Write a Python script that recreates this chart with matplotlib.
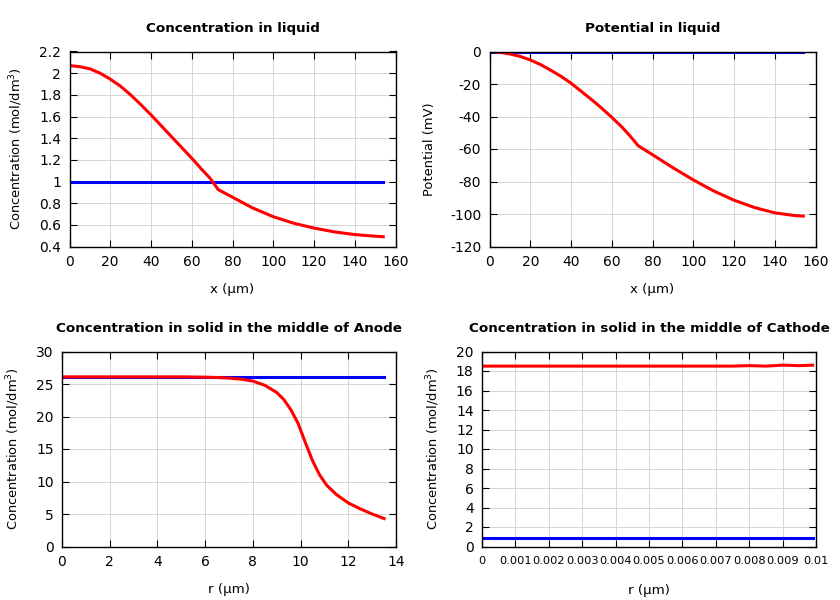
import numpy as np
import matplotlib.pyplot as plt
plt.switch_backend('agg')

# concentration in liquid (x in um)
x_liq = [0, 5, 10, 15, 20, 25, 30, 35, 40, 45, 50, 55, 60, 65, 69, 73,
         80, 90, 100, 110, 120, 130, 140, 150, 154]
c_liq_red = [2.07, 2.06, 2.04, 2.0, 1.945, 1.88, 1.8, 1.71, 1.615, 1.515, 1.415,
             1.315, 1.215, 1.11, 1.03, 0.925, 0.855, 0.755, 0.675, 0.615, 0.57,
             0.535, 0.51, 0.495, 0.49]
c_liq_blue = [1.0] * len(x_liq)

# potential in liquid (mV)
p_liq_red = [0, -0.5, -1.5, -3.0, -5.2, -8.0, -11.5, -15.2, -19.5, -24.5, -29.5,
             -34.8, -40.5, -46.5, -52.0, -58.0, -63.5, -71.5, -79.0, -85.8, -91.5,
             -96.0, -99.3, -101.0, -101.3]
p_liq_blue = [0.0] * len(x_liq)

# anode solid (r in um)
r_an = [0.05, 1, 2, 3, 4, 5, 6, 6.5, 7, 7.5, 8, 8.5, 9, 9.3, 9.6, 9.9, 10.2,
        10.5, 10.8, 11.1, 11.5, 12, 12.5, 13, 13.5]
c_an_red = [26.1, 26.1, 26.1, 26.1, 26.1, 26.1, 26.05, 26.0, 25.9, 25.75, 25.45,
            24.8, 23.7, 22.6, 21.0, 18.9, 16.0, 13.2, 11.0, 9.4, 8.0, 6.7, 5.8,
            5.0, 4.3]
c_an_blue = [26.1] * len(r_an)

# cathode solid
r_ca = [0.00005, 0.001, 0.002, 0.003, 0.004, 0.005, 0.006, 0.007, 0.0075,
        0.008, 0.0085, 0.009, 0.0095, 0.0099]
c_ca_red = [18.5, 18.5, 18.5, 18.5, 18.5, 18.5, 18.5, 18.5, 18.5, 18.55, 18.5,
            18.6, 18.55, 18.6]
c_ca_blue = [0.9] * len(r_ca)

plt.rcParams['axes.unicode_minus'] = False
fig = plt.figure(figsize=(8.4, 6), dpi=100)

W = 326 / 840
H = 195 / 600
axes = [
    fig.add_axes([69.5 / 840, 1 - 246.5 / 600, W, H]),
    fig.add_axes([489.5 / 840, 1 - 246.5 / 600, W, H]),
    fig.add_axes([62 / 840, 1 - 546.5 / 600, 334 / 840, H]),
    fig.add_axes([482 / 840, 1 - 546.5 / 600, 334 / 840, H]),
]


def style(ax, title, xlabel, ylabel):
    ax.set_title(title, fontweight='bold', fontsize=9.7, pad=14)
    ax.set_xlabel(xlabel, labelpad=10, fontsize=9.6)
    ax.set_ylabel(ylabel, labelpad=10, fontsize=9.4)
    ax.grid(True, color='#d5d5d5', lw=0.7)
    ax.set_axisbelow(True)
    ax.tick_params(direction='in', top=True, right=True, length=5, labelsize=10,
                   pad=6)
    for s in ax.spines.values():
        s.set_linewidth(1.0)


lw = 2.2
ax = axes[0]
ax.plot(x_liq, c_liq_blue, c='blue', lw=lw)
ax.plot(x_liq, c_liq_red, c='red', lw=lw)
ax.set_xlim(0, 160)
ax.set_xticks(np.arange(0, 161, 20))
ax.set_ylim(0.4, 2.2)
ax.set_yticks(np.arange(0.4, 2.21, 0.2))
ax.set_yticklabels(['0.4', '0.6', '0.8', '1', '1.2', '1.4', '1.6', '1.8', '2', '2.2'])
style(ax, "Concentration in liquid", "x (µm)", "Concentration (mol/dm$^3$)")

ax = axes[1]
ax.plot(x_liq, p_liq_blue, c='blue', lw=lw)
ax.plot(x_liq, p_liq_red, c='red', lw=lw)
ax.set_xlim(0, 160)
ax.set_xticks(np.arange(0, 161, 20))
ax.set_ylim(-120, 0)
ax.set_yticks(np.arange(-120, 1, 20))
style(ax, "Potential in liquid", "x (µm)", "Potential (mV)")

ax = axes[2]
ax.plot(r_an, c_an_blue, c='blue', lw=lw)
ax.plot(r_an, c_an_red, c='red', lw=lw)
ax.set_xlim(0, 14)
ax.set_ylim(0, 30)
ax.set_xticks(np.arange(0, 15, 2))
style(ax, "Concentration in solid in the middle of Anode", "r (µm)",
      "Concentration (mol/dm$^3$)")

ax = axes[3]
ax.plot(r_ca, c_ca_blue, c='blue', lw=lw)
ax.plot(r_ca, c_ca_red, c='red', lw=lw)
ax.set_xlim(0, 0.01)
ax.set_ylim(0, 20)
ax.set_yticks(np.arange(0, 21, 2))
xt = np.arange(0, 0.0101, 0.001)
ax.set_xticks(xt)
ax.set_xticklabels(['0'] + ['%g' % round(v, 3) for v in xt[1:]])
style(ax, "Concentration in solid in the middle of Cathode", "r (µm)",
      "Concentration (mol/dm$^3$)")
# the long tick labels only just fit side by side
ax.tick_params(axis='x', labelsize=8.2, pad=7)
ax.xaxis.labelpad = 13

fig.savefig("out.png", dpi=100)
